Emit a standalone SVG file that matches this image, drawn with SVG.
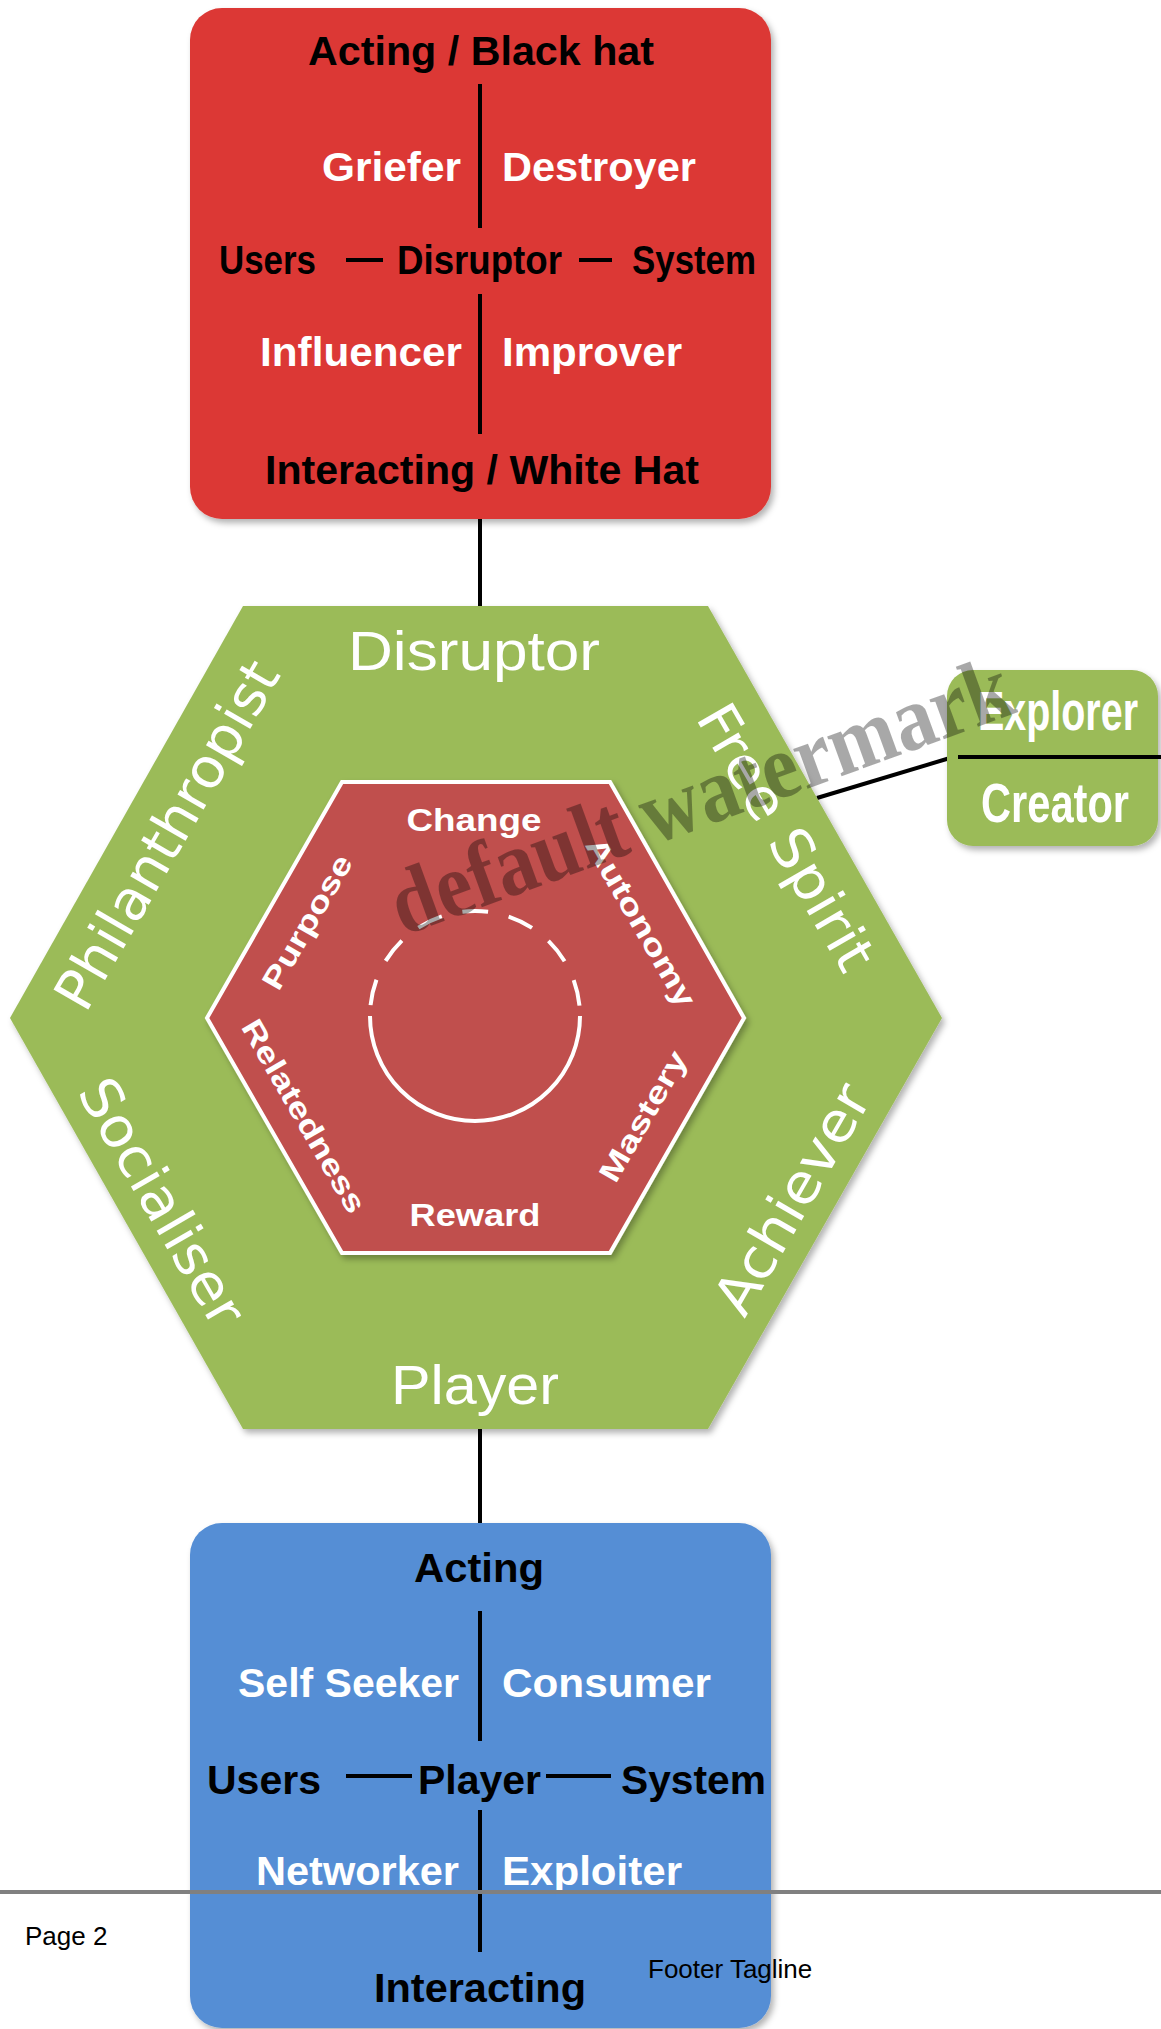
<svg xmlns="http://www.w3.org/2000/svg" width="1161" height="2029" viewBox="0 0 1161 2029">
<defs>
<filter id="sh" x="-10%" y="-10%" width="125%" height="125%">
<feDropShadow dx="3" dy="4" stdDeviation="3" flood-color="#000" flood-opacity="0.3"/>
</filter>
<style>
.bx{font-family:"Liberation Sans",Arial,sans-serif;font-weight:bold;font-size:40px}
.k{fill:#000}
.w{fill:#fff}
.hx{font-family:"Liberation Sans",Arial,sans-serif;font-size:56px;fill:#fff;text-anchor:middle}
.sd{font-family:"DejaVu Sans",Verdana,sans-serif;font-size:55px;fill:#fff;text-anchor:middle;dominant-baseline:central}
.in{font-family:"Liberation Sans",Arial,sans-serif;font-weight:bold;font-size:32px;fill:#fff;text-anchor:middle}
.ir{font-family:"Liberation Sans",Arial,sans-serif;font-weight:bold;font-size:30px;fill:#fff;text-anchor:middle;dominant-baseline:central}
.ln{stroke:#000;stroke-width:4;fill:none}
.ft{font-family:"Liberation Sans",Arial,sans-serif;font-size:26px;fill:#000}
</style>
</defs>
<rect width="1161" height="2029" fill="#fff"/>

<g id="connectors">
<line class="ln" x1="480" y1="500" x2="480" y2="608"/>
<line class="ln" x1="480" y1="1422" x2="480" y2="1525"/>
<line class="ln" x1="817" y1="798" x2="950" y2="758"/>
</g>

<g id="disruptor-box">
<rect x="190" y="8" width="581" height="511" rx="32" fill="#DC3934" filter="url(#sh)"/>
<line class="ln" x1="480" y1="84" x2="480" y2="228"/>
<line class="ln" x1="480" y1="294" x2="480" y2="434"/>
<line class="ln" stroke-width="5" x1="346" y1="260" x2="383" y2="260"/>
<line class="ln" stroke-width="5" x1="579" y1="260" x2="612" y2="260"/>
<text class="bx k" x="481" y="65" text-anchor="middle" textLength="346" lengthAdjust="spacingAndGlyphs">Acting / Black hat</text>
<text class="bx w" x="461" y="181" text-anchor="end" textLength="139" lengthAdjust="spacingAndGlyphs">Griefer</text>
<text class="bx w" x="502" y="181" textLength="194" lengthAdjust="spacingAndGlyphs">Destroyer</text>
<text class="bx k" x="219" y="274" textLength="97" lengthAdjust="spacingAndGlyphs">Users</text>
<text class="bx k" x="397" y="274" textLength="165" lengthAdjust="spacingAndGlyphs">Disruptor</text>
<text class="bx k" x="632" y="274" textLength="124" lengthAdjust="spacingAndGlyphs">System</text>
<text class="bx w" x="462" y="366" text-anchor="end" textLength="202" lengthAdjust="spacingAndGlyphs">Influencer</text>
<text class="bx w" x="502" y="366" textLength="180" lengthAdjust="spacingAndGlyphs">Improver</text>
<text class="bx k" x="482" y="484" text-anchor="middle" textLength="434" lengthAdjust="spacingAndGlyphs">Interacting / White Hat</text>
</g>

<g id="hexagon">
<polygon points="243,606 708,606 942,1018 708,1429 243,1429 10,1018" fill="#9BBB59" filter="url(#sh)"/>
<text class="hx" x="474" y="670" textLength="252" lengthAdjust="spacingAndGlyphs">Disruptor</text>
<text class="hx" x="475" y="1404" textLength="168" lengthAdjust="spacingAndGlyphs">Player</text>
<text class="sd" transform="translate(167,835) rotate(-60)" textLength="392" lengthAdjust="spacingAndGlyphs">Philanthropist</text>
<text class="sd" transform="translate(786,837) rotate(60)" textLength="298" lengthAdjust="spacingAndGlyphs">Free Spirit</text>
<text class="sd" transform="translate(162,1202) rotate(60)" textLength="276" lengthAdjust="spacingAndGlyphs">Socialiser</text>
<text class="sd" transform="translate(792,1199) rotate(-60)" textLength="256" lengthAdjust="spacingAndGlyphs">Achiever</text>
</g>

<g id="inner-hexagon">
<polygon points="342,782 610,782 744,1018 610,1253 342,1253 207,1018" fill="#C0504D" stroke="#fff" stroke-width="4" filter="url(#sh)"/>
<text class="in" x="474" y="831" textLength="135" lengthAdjust="spacingAndGlyphs">Change</text>
<text class="in" x="475" y="1226" textLength="131" lengthAdjust="spacingAndGlyphs">Reward</text>
<text class="ir" transform="translate(307,922) rotate(-60)" textLength="150" lengthAdjust="spacingAndGlyphs">Purpose</text>
<text class="ir" transform="translate(641,922) rotate(60)" textLength="190" lengthAdjust="spacingAndGlyphs">Autonomy</text>
<text class="ir" transform="translate(304,1116) rotate(60)" textLength="218" lengthAdjust="spacingAndGlyphs">Relatedness</text>
<text class="ir" transform="translate(643,1116) rotate(-60)" textLength="146" lengthAdjust="spacingAndGlyphs">Mastery</text>
</g>

<g id="cycle">
<path d="M370,1016 A105,105 0 0 1 580,1016" fill="none" stroke="#fff" stroke-width="4" stroke-dasharray="26 21" stroke-dashoffset="36"/>
<path d="M370,1016 A105,105 0 0 0 580,1016" fill="none" stroke="#fff" stroke-width="4"/>
</g>

<g id="explorer-box">
<rect x="947" y="670" width="211" height="176" rx="26" fill="#9BBB59" filter="url(#sh)"/>
<line class="ln" x1="958" y1="757" x2="1161" y2="757"/>
<text class="hx" font-size="40" font-weight="bold" x="1058" y="730" textLength="160" lengthAdjust="spacingAndGlyphs">Explorer</text>
<text class="hx" font-size="40" font-weight="bold" x="1055" y="822" textLength="148" lengthAdjust="spacingAndGlyphs">Creator</text>
</g>

<g id="player-box">
<rect x="190" y="1523" width="581" height="505" rx="32" fill="#558ED5" filter="url(#sh)"/>
<line class="ln" x1="480" y1="1611" x2="480" y2="1741"/>
<line class="ln" x1="480" y1="1810" x2="480" y2="1952"/>
<line class="ln" stroke-width="5" x1="346" y1="1776" x2="412" y2="1776"/>
<line class="ln" stroke-width="5" x1="546" y1="1776" x2="611" y2="1776"/>
<text class="bx k" x="479" y="1582" text-anchor="middle" textLength="130" lengthAdjust="spacingAndGlyphs">Acting</text>
<text class="bx w" x="459" y="1697" text-anchor="end" textLength="221" lengthAdjust="spacingAndGlyphs">Self Seeker</text>
<text class="bx w" x="502" y="1697" textLength="209" lengthAdjust="spacingAndGlyphs">Consumer</text>
<text class="bx k" x="207" y="1794" textLength="114" lengthAdjust="spacingAndGlyphs">Users</text>
<text class="bx k" x="418" y="1794" textLength="123" lengthAdjust="spacingAndGlyphs">Player</text>
<text class="bx k" x="621" y="1794" textLength="145" lengthAdjust="spacingAndGlyphs">System</text>
<text class="bx w" x="459" y="1885" text-anchor="end" textLength="203" lengthAdjust="spacingAndGlyphs">Networker</text>
<text class="bx w" x="502" y="1885" textLength="180" lengthAdjust="spacingAndGlyphs">Exploiter</text>
<text class="bx k" x="480" y="2002" text-anchor="middle" textLength="212" lengthAdjust="spacingAndGlyphs">Interacting</text>
</g>

<g id="footer">
<line x1="0" y1="1892" x2="1161" y2="1892" stroke="#808080" stroke-width="4"/>
<text class="ft" x="25" y="1945">Page 2</text>
<text class="ft" x="648" y="1978">Footer Tagline</text>
</g>

<g id="watermark">
<text x="403" y="936" transform="rotate(-20 403 936)" font-family="'Liberation Serif','Times New Roman',serif" font-weight="bold" font-size="92" fill="#000" fill-opacity="0.34" textLength="655" lengthAdjust="spacingAndGlyphs">default watermark</text>
</g>
</svg>
